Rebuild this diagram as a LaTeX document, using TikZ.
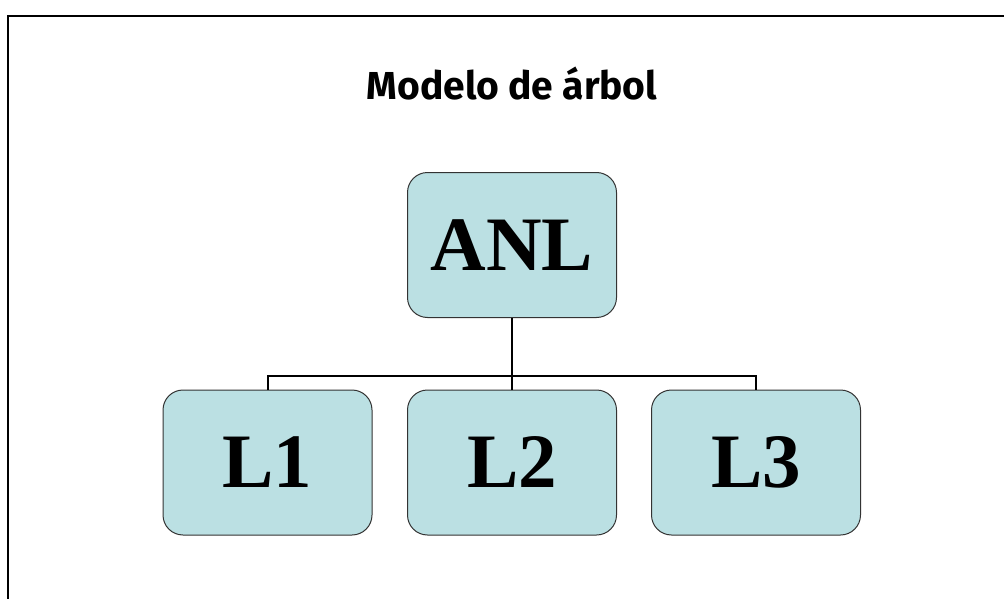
\documentclass[tikz,border=0pt]{standalone}
\usepackage{fontspec}
\setmainfont{Liberation Serif}
\newfontfamily\titlefont{Fira Sans}
\definecolor{boxfill}{HTML}{BBE0E3}
\definecolor{boxline}{HTML}{333333}
\begin{document}
\begin{tikzpicture}[x=1pt,y=-1pt,
  orgbox/.style={draw=boxline,line width=1pt,fill=boxfill,rounded corners=20pt,
    minimum width=209pt,minimum height=145pt,inner sep=0pt,
    font=\fontsize{77}{80}\selectfont\bfseries},
  conn/.style={line width=2pt,black}]
\useasboundingbox (0,0) rectangle (1004,599);
\draw[line width=2.2pt] (8,599) -- (8,16) -- (1004,16);
\node[anchor=base,font=\titlefont\bfseries\fontsize{39}{44}\selectfont] (title) at (512,100) {Modelo de árbol};
\node[orgbox] (anl) at (512,245) {ANL};
\node[orgbox] (l1) at (267.5,462.5) {L1};
\node[orgbox] (l2) at (512,462.5) {L2};
\node[orgbox] (l3) at (756,462.5) {L3};
\coordinate (mid) at (512,376);
\draw[conn] (anl.south) -- (mid);
\draw[conn] (l1.north) |- (mid) -| (l3.north);
\draw[conn] (mid) -- (l2.north);
\end{tikzpicture}
\end{document}
